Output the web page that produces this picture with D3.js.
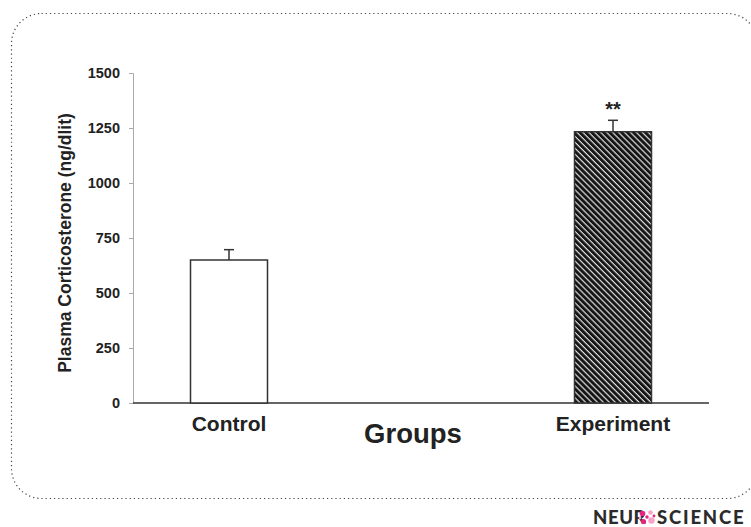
<!DOCTYPE html>
<html>
<head>
<meta charset="utf-8">
<script src="https://cdn.jsdelivr.net/npm/d3@7"></script>
<style>
  html, body { margin: 0; padding: 0; background: #fff; }
  svg { display: block; }
</style>
</head>
<body>
<svg id="chart" width="751" height="527"></svg>
<script>
// Plasma corticosterone by group (mean ± SEM)
const groups = ["Control", "Experiment"];
const means = [650, 1233];
const errors = [47, 52];
const significance = ["", "**"];
const yTicks = [0, 250, 500, 750, 1000, 1250, 1500];

const svg = d3.select("#chart");
const font = "'Liberation Sans', Arial, sans-serif";

// Hatch pattern for the experiment bar
const defs = svg.append("defs");
defs.append("pattern")
  .attr("id", "hatch")
  .attr("patternUnits", "userSpaceOnUse")
  .attr("width", 4.2)
  .attr("height", 4.2)
  .attr("patternTransform", "rotate(-45)")
  .call(p => {
    p.append("rect").attr("width", 4.2).attr("height", 4.2).attr("fill", "#e0e0e0");
    p.append("rect").attr("width", 3.0).attr("height", 4.2).attr("fill", "#151515");
  });

// Dotted rounded frame
svg.append("rect")
  .attr("x", 11.5).attr("y", 13.5)
  .attr("width", 746).attr("height", 485)
  .attr("rx", 30).attr("ry", 30)
  .attr("fill", "none")
  .attr("stroke", "#444")
  .attr("stroke-width", 1.2)
  .attr("stroke-dasharray", "1.2,3");

const x = d3.scalePoint().domain(groups).range([133, 709]).padding(0.25);
const y = d3.scaleLinear().domain([0, 1500]).range([403, 73]);
const barW = 77;

// Y axis
const yAxis = svg.append("g")
  .attr("transform", "translate(133,0)")
  .call(d3.axisLeft(y).tickValues(yTicks).tickSize(4).tickPadding(9).tickFormat(d3.format("d")));
yAxis.select(".domain").attr("stroke", "#aaa").attr("stroke-width", 1);
yAxis.selectAll(".tick line").attr("stroke", "#aaa");
yAxis.selectAll(".tick text")
  .attr("fill", "#222")
  .style("font-family", font)
  .style("font-weight", "bold")
  .style("font-size", "14.5px");

// X axis baseline
svg.append("line")
  .attr("x1", 133).attr("x2", 709)
  .attr("y1", y(0)).attr("y2", y(0))
  .attr("stroke", "#333").attr("stroke-width", 1.6);

// Bars
const data = groups.map((g, i) => ({ g, v: means[i], e: errors[i], s: significance[i], i }));

svg.selectAll(".bar").data(data).join("rect")
  .attr("class", "bar")
  .attr("x", d => x(d.g) - barW / 2)
  .attr("y", d => y(d.v))
  .attr("width", barW)
  .attr("height", d => y(0) - y(d.v))
  .attr("fill", d => d.i === 0 ? "#fff" : "url(#hatch)")
  .attr("stroke", "#333")
  .attr("stroke-width", 1.5);

// Error bars (upper only)
const eb = svg.selectAll(".err").data(data).join("g").attr("class", "err");
eb.append("line")
  .attr("x1", d => x(d.g)).attr("x2", d => x(d.g))
  .attr("y1", d => y(d.v)).attr("y2", d => y(d.v + d.e))
  .attr("stroke", "#333").attr("stroke-width", 1.5);
eb.append("line")
  .attr("x1", d => x(d.g) - 5).attr("x2", d => x(d.g) + 5)
  .attr("y1", d => y(d.v + d.e)).attr("y2", d => y(d.v + d.e))
  .attr("stroke", "#333").attr("stroke-width", 1.5);

// Significance marks
svg.selectAll(".sig").data(data.filter(d => d.s)).join("text")
  .attr("class", "sig")
  .attr("x", d => x(d.g))
  .attr("y", d => y(d.v + d.e) - 4)
  .attr("text-anchor", "middle")
  .attr("fill", "#222")
  .style("font-family", font)
  .style("font-weight", "bold")
  .style("font-size", "20px")
  .text(d => d.s);

// Category labels
svg.selectAll(".cat").data(groups).join("text")
  .attr("class", "cat")
  .attr("x", d => x(d))
  .attr("y", 431)
  .attr("text-anchor", "middle")
  .attr("fill", "#222")
  .style("font-family", font)
  .style("font-weight", "bold")
  .style("font-size", "21px")
  .text(d => d);

// Axis titles
svg.append("text")
  .attr("x", 413).attr("y", 443)
  .attr("text-anchor", "middle")
  .attr("fill", "#222")
  .style("font-family", font)
  .style("font-weight", "bold")
  .style("font-size", "27.5px")
  .text("Groups");

svg.append("text")
  .attr("transform", "translate(71,243) rotate(-90)")
  .attr("text-anchor", "middle")
  .attr("fill", "#222")
  .style("font-family", font)
  .style("font-weight", "bold")
  .style("font-size", "17.5px")
  .text("Plasma Corticosterone (ng/dlit)");

// Publisher mark
const logo = svg.append("g").attr("transform", "translate(593,524)");
logo.append("text")
  .attr("x", 0).attr("y", 0)
  .attr("fill", "#2b2b2b")
  .style("font-family", "Lato, sans-serif")
  .style("font-weight", "900")
  .style("font-size", "18.5px")
  .style("letter-spacing", "0.6px")
  .text("NEUR");
const icon = logo.append("g").attr("transform", "translate(54,-7)");
[[-4.5, -3.5, 2.8], [3.5, -4.5, 2.3], [-3.5, 4.5, 2.6], [4.5, 3.5, 3.2], [0, 0, 1.7], [-7, 1, 1.4], [7, -1, 1.4]]
  .forEach(([cx, cy, r], i) => {
    icon.append("circle").attr("cx", cx).attr("cy", cy).attr("r", r)
      .attr("fill", i % 2 ? "#f9a3c9" : "#e8237f");
  });
logo.append("text")
  .attr("x", 64).attr("y", 0)
  .attr("fill", "#2b2b2b")
  .style("font-family", "Lato, sans-serif")
  .style("font-weight", "900")
  .style("font-size", "18.5px")
  .style("letter-spacing", "1.8px")
  .text("SCIENCE");
</script>
</body>
</html>
